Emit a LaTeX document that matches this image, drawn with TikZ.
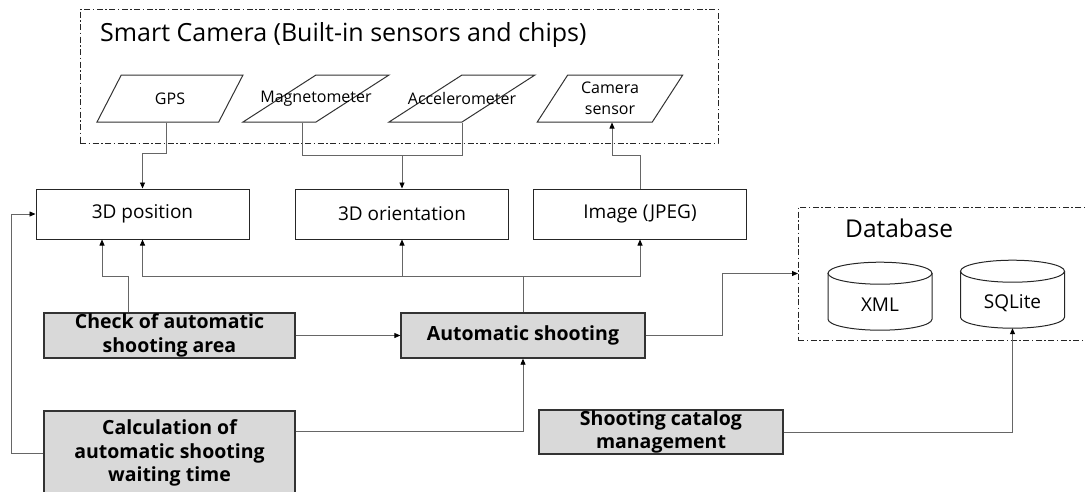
\documentclass[tikz,border=0pt]{standalone}
\usepackage{fontspec}
\setmainfont{Open Sans}
\usetikzlibrary{shapes.geometric,arrows.meta,positioning}
\begin{document}
\begin{tikzpicture}[x=1pt,y=-1pt]
	\tikzstyle{group} = [draw=black!85,line width=0.9pt,dash pattern=on 6pt off 2.5pt on 1.5pt off 2.5pt]
	\tikzstyle{sensor} = [trapezium,trapezium left angle=57.5,trapezium right angle=122.5,trapezium stretches,draw=black!80,line width=1pt,minimum width=146pt,minimum height=47pt,inner sep=0pt,font=\fontsize{16}{21}\selectfont,align=center]
	\tikzstyle{datum} = [rectangle,draw=black!85,line width=1pt,minimum width=213pt,minimum height=50pt,font=\fontsize{19}{23}\selectfont]
	\tikzstyle{proc} = [rectangle,draw=black!80,fill=black!15,line width=1.3pt,inner sep=0pt,align=center,font=\bfseries\fontsize{19.5}{23.5}\selectfont]
	\tikzstyle{store} = [rectangle,minimum width=104pt,minimum height=50pt,inner sep=0pt,font=\fontsize{19}{23}\selectfont]
	\tikzstyle{drum} = [draw=black!85,line width=1pt]
	\tikzstyle{wire} = [draw=black!60,line width=0.8pt]
	\tikzstyle{feed} = [wire,-{Triangle[length=6pt,width=5pt,color=black]}]

		\useasboundingbox (0,0) rectangle (1085,491);

		% camera with its sensors
		\node[group,minimum width=638pt,minimum height=134pt] (camgroup) at (399,76){};
		\node[anchor=west,inner sep=0pt,font=\fontsize{25}{30}\selectfont] (camtitle) at (100,35){Smart Camera (Built-in sensors and chips)};
		\node[sensor] (gps) at (170,98.5){GPS};
		\node[sensor] (mag) at ([xshift=146pt]gps.center){\makebox[0pt]{Magnetometer}};
		\node[sensor] (acc) at ([xshift=146pt]mag.center){\makebox[0pt]{Accelerometer}};
		\node[sensor] (camsen) at ([xshift=148pt]acc.center){Camera\\sensor};

		% measured data
		\node[datum] (pos) at (142.5,214){3D position};
		\node[datum] (ori) at ([xshift=259.5pt]pos.center){3D orientation};
		\node[datum] (img) at ([xshift=238pt]ori.center){Image (JPEG)};

		% processing steps
		\node[proc,minimum width=251pt,minimum height=45pt] (chk) at (169.5,335.5){Check of automatic\\shooting area};
		\node[proc,minimum width=244pt,minimum height=45pt] (auto) at (523,335.5){Automatic shooting};
		\node[proc,minimum width=251pt,minimum height=84pt] (calc) at (169.5,453){Calculation of\\automatic shooting\\waiting time};
		\node[proc,minimum width=244pt,minimum height=44pt] (cat) at (661,432){Shooting catalog\\management};

		% storage
		\node[group,anchor=west,minimum width=300pt,minimum height=133pt] (db) at (798,273.5){};
		\node[anchor=west,inner sep=0pt,font=\fontsize{24.5}{30}\selectfont] (dbtitle) at (845,228){Database};
		\node[store] (xml) at (880,305){XML};
		\node[store] (sql) at (1012.5,303){SQLite};
		\foreach \s in {xml,sql}{
			\draw[drum] ([xshift=-52pt,yshift=57pt]\s.south) -- ([xshift=-52pt,yshift=11pt]\s.south)
				arc[start angle=180,end angle=360,x radius=52pt,y radius=11pt] -- ([xshift=52pt,yshift=57pt]\s.south);
			\draw[drum] ([yshift=57pt]\s.south) ellipse[x radius=52pt,y radius=11pt];
		}

		% sensors to data
		\draw[feed] ([xshift=-4pt]gps.south) -- ++(0,31) -| (pos.north);
		\path (ori.north) ++(0,-33) coordinate (mj);
		\draw[wire] ([xshift=-14pt]mag.south) |- (mj) -| (acc.south);
		\draw[feed] (mj) -- (ori.north);
		\draw[feed] (img.north) -- ++(0,-33) -| ([xshift=2pt]camsen.south);

		% shooting to data
		\path (auto.north) ++(0,-36) coordinate (aj);
		\draw[wire] (auto.north) -- (aj);
		\draw[feed] (aj) -| (pos.south);
		\draw[feed] (aj) -| (ori.south);
		\draw[feed] (aj) -| (img.south);
		\coordinate (chkup) at ([xshift=-41.5pt]chk.north);
		\coordinate (posin) at ([xshift=-40.5pt]pos.south);
		\draw[feed] (chkup) -- (chkup |- aj) -| (posin);

		% between the steps
		\draw[feed] (chk.east) -- (auto.west);
		\draw[feed] ([yshift=22pt]calc.east) -| (auto.south);
		\draw[feed] (calc.west) -- ++(-32,0) |- (pos.west);
		\draw[feed] (auto.east) -- ++(77,0) |- (db.west);
		\draw[feed] (cat.east) -| (sql.south);
\end{tikzpicture}
\end{document}
